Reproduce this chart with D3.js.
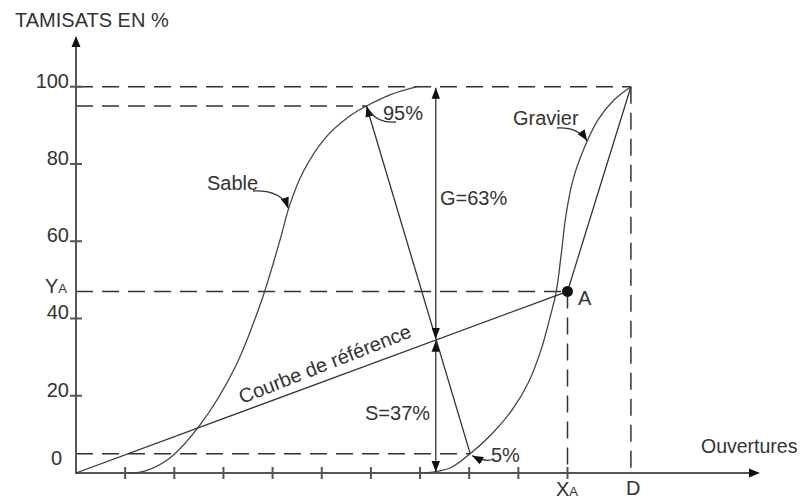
<!DOCTYPE html>
<html>
<head>
<meta charset="utf-8">
<script src="https://cdn.jsdelivr.net/npm/d3@7"></script>
<style>
  html, body { margin: 0; padding: 0; background: #fff; }
  svg text { font-family: "Liberation Sans", Arial, sans-serif; fill: #333; }
</style>
</head>
<body>
<svg id="chart" width="803" height="499"></svg>
<script>
// ---- data ----
const xTickValues = [1, 2, 3, 4, 5, 6, 7, 8, 9, 10];
const yTickValues = [20, 40, 60, 80, 100];
const yTickLabels = ["20", "40", "60", "80", "100"];

const sableX = [1.04, 1.40, 1.91, 2.52, 3.23, 3.78, 4.15, 4.35, 4.62, 5.07, 5.57, 5.91, 6.39, 6.94];
const sableY = [0, 0.5, 3.9, 12.4, 27.2, 44.8, 60.3, 69.4, 77.9, 86.7, 92.4, 95, 97.9, 100];

const gravierX = [7.10, 7.61, 8.02, 8.46, 8.87, 9.20, 9.46, 9.64, 9.77, 9.87, 9.97, 10.11, 10.34, 10.62, 10.95, 11.29];
const gravierY = [0, 1.3, 5, 10.1, 16.3, 23.3, 31.8, 40.1, 46.9, 56.4, 66.8, 75.8, 84.1, 91.4, 96.6, 100];

const refX = [0, 10, 11.29];      // O -> A -> D
const refY = [0, 47, 100];

const xA = 10, yA = 47, xD = 11.29;
const sand95 = [5.91, 95];
const gravel5 = [8.02, 5];
const mixX = 7.32, mixY = 34.5;   // G / S split on the reference line
const gLabel = "G=63%", sLabel = "S=37%";

// ---- drawing ----
const svg = d3.select("#chart");
const x = d3.scaleLinear().domain([0, 10]).range([76, 567.5]);
const y = d3.scaleLinear().domain([0, 100]).range([473, 86.7]);
const FS = "20px";

const defs = svg.append("defs");
defs.append("marker").attr("id", "arr")
  .attr("viewBox", "0 -5 11 10").attr("refX", 11).attr("refY", 0)
  .attr("markerWidth", 11).attr("markerHeight", 10)
  .attr("markerUnits", "userSpaceOnUse").attr("orient", "auto")
  .append("path").attr("d", "M0,-4.2L11,0L0,4.2Z").attr("fill", "#111");
defs.append("marker").attr("id", "arrStart")
  .attr("viewBox", "0 -5 11 10").attr("refX", 0).attr("refY", 0)
  .attr("markerWidth", 11).attr("markerHeight", 10)
  .attr("markerUnits", "userSpaceOnUse").attr("orient", "auto")
  .append("path").attr("d", "M11,-4.2L0,0L11,4.2Z").attr("fill", "#111");

const dash = "17,9";
const dashed = svg.append("g").attr("stroke", "#333").attr("stroke-width", 1.5)
  .attr("stroke-dasharray", dash).attr("fill", "none");
dashed.append("line").attr("x1", x(0)).attr("x2", x(xD)).attr("y1", y(100)).attr("y2", y(100));
dashed.append("line").attr("x1", x(0)).attr("x2", x(sand95[0])).attr("y1", y(sand95[1])).attr("y2", y(sand95[1]));
dashed.append("line").attr("x1", x(0)).attr("x2", x(xA)).attr("y1", y(yA)).attr("y2", y(yA));
dashed.append("line").attr("x1", x(0)).attr("x2", x(gravel5[0])).attr("y1", y(gravel5[1])).attr("y2", y(gravel5[1]));
dashed.append("line").attr("x1", x(xA)).attr("x2", x(xA)).attr("y1", y(yA)).attr("y2", y(0));
dashed.append("line").attr("x1", x(xD)).attr("x2", x(xD)).attr("y1", y(100)).attr("y2", y(0));

// axes
const axisG = svg.append("g").attr("stroke", "#555").attr("stroke-width", 2);
axisG.append("line").attr("x1", x(0)).attr("x2", 752).attr("y1", y(0)).attr("y2", y(0));
axisG.append("line").attr("x1", x(0)).attr("x2", x(0)).attr("y1", y(0) + 1).attr("y2", 46);
svg.append("path").attr("d", `M760,${y(0)}L749,${y(0) - 4.5}L749,${y(0) + 4.5}Z`).attr("fill", "#111");
svg.append("path").attr("d", `M${x(0)},36L${x(0) - 4.5},47L${x(0) + 4.5},47Z`).attr("fill", "#111");

axisG.selectAll(".xt").data(xTickValues).enter().append("line")
  .attr("x1", d => x(d)).attr("x2", d => x(d)).attr("y1", y(0) - 6).attr("y2", y(0) + 6);
axisG.selectAll(".yt").data(yTickValues).enter().append("line")
  .attr("x1", x(0) - 6).attr("x2", x(0) + 6).attr("y1", d => y(d)).attr("y2", d => y(d));
svg.selectAll(".yl").data(yTickValues).enter().append("text")
  .attr("x", 69).attr("y", d => y(d) + 1).attr("text-anchor", "end")
  .style("font-size", FS).text((d, i) => yTickLabels[i]);
svg.append("text").attr("x", 51).attr("y", 465).style("font-size", FS).text("0");

// curves
const line = d3.line().x(d => x(d[0])).y(d => y(d[1]));
const smooth = d3.line().x(d => x(d[0])).y(d => y(d[1])).curve(d3.curveCatmullRom.alpha(0.5));
svg.append("path").attr("d", smooth(sableX.map((v, i) => [v, sableY[i]])))
  .attr("fill", "none").attr("stroke", "#444").attr("stroke-width", 1.3);
svg.append("path").attr("d", smooth(gravierX.map((v, i) => [v, gravierY[i]])))
  .attr("fill", "none").attr("stroke", "#444").attr("stroke-width", 1.3);
svg.append("path").attr("d", line(refX.map((v, i) => [v, refY[i]])))
  .attr("fill", "none").attr("stroke", "#333").attr("stroke-width", 1.3);

// diagonal 95% sable -> 5% gravier
svg.append("line").attr("x1", x(gravel5[0])).attr("y1", y(gravel5[1]))
  .attr("x2", x(sand95[0])).attr("y2", y(sand95[1]))
  .attr("stroke", "#333").attr("stroke-width", 1.3).attr("marker-end", "url(#arr)");

// G and S arrows
svg.append("line").attr("x1", x(mixX)).attr("x2", x(mixX)).attr("y1", y(mixY) - 1).attr("y2", y(100) + 1)
  .attr("stroke", "#333").attr("stroke-width", 1.3)
  .attr("marker-start", "url(#arrStart)").attr("marker-end", "url(#arr)");
svg.append("line").attr("x1", x(mixX)).attr("x2", x(mixX)).attr("y1", y(mixY) + 1).attr("y2", y(0) - 1)
  .attr("stroke", "#333").attr("stroke-width", 1.3)
  .attr("marker-start", "url(#arrStart)").attr("marker-end", "url(#arr)");

// point A
svg.append("circle").attr("cx", x(xA)).attr("cy", y(yA)).attr("r", 5.5).attr("fill", "#111");

// callouts
const co = svg.append("g").attr("fill", "none").attr("stroke", "#333").attr("stroke-width", 1.3);
const sP = [x(4.32), y(68.5)];
co.append("path").attr("d", `M253,191 Q282,190 ${sP[0]},${sP[1]}`).attr("marker-end", "url(#arr)");
const gP = [x(10.40), y(86.0)];
co.append("path").attr("d", `M557,128 Q578,127 ${gP[0]},${gP[1]}`).attr("marker-end", "url(#arr)");
co.append("path").attr("d", `M396,122 Q378,123 ${x(sand95[0]) + 4},${y(sand95[1]) + 6}`);
co.append("path").attr("d", `M494,459 Q486,463 ${x(gravel5[0]) + 2},${y(gravel5[1]) + 2}`).attr("marker-end", "url(#arr)");

// texts
svg.append("text").attr("x", 15).attr("y", 27).style("font-size", "20px").text("TAMISATS EN %");
svg.append("text").attr("x", 207).attr("y", 190).style("font-size", FS).text("Sable");
svg.append("text").attr("x", 513).attr("y", 125).style("font-size", FS).text("Gravier");
svg.append("text").attr("x", 383).attr("y", 120).style("font-size", FS).text("95%");
svg.append("text").attr("x", 491).attr("y", 462).style("font-size", FS).text("5%");
svg.append("text").attr("x", 440).attr("y", 205).style("font-size", FS).text(gLabel);
svg.append("text").attr("x", 365).attr("y", 420).style("font-size", FS).text(sLabel);
svg.append("text").attr("x", 578).attr("y", 305).style("font-size", FS).text("A");
svg.append("text").attr("x", 701).attr("y", 453).style("font-size", "19.5px").text("Ouvertures");
svg.append("text").attr("x", 626).attr("y", 495).style("font-size", FS).text("D");
svg.append("text").attr("transform", "translate(242,404) rotate(-21.5)")
  .style("font-size", FS).text("Courbe de référence");
const ya = svg.append("text").attr("x", 45).attr("y", 293).style("font-size", FS);
ya.append("tspan").text("Y");
ya.append("tspan").style("font-size", "13px").text("A");
const xa = svg.append("text").attr("x", 556).attr("y", 496).style("font-size", FS);
xa.append("tspan").text("X");
xa.append("tspan").style("font-size", "13px").text("A");
</script>
</body>
</html>
